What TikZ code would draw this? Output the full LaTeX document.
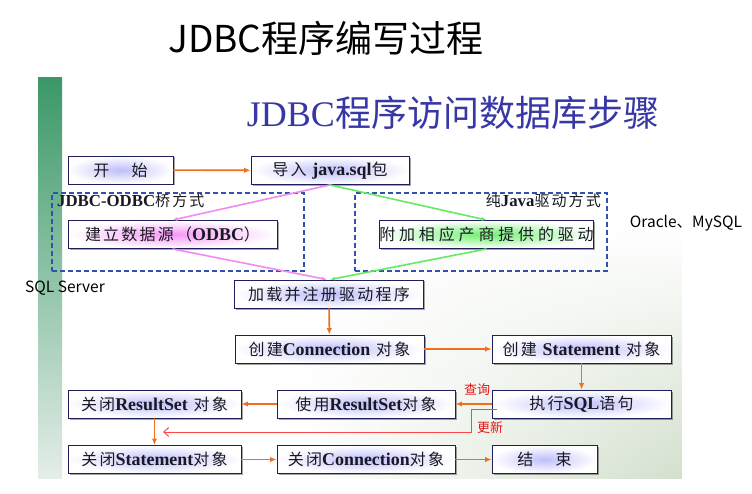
\documentclass[tikz,border=0pt]{standalone}
\usepackage{fontspec}
\setmainfont{Liberation Serif}
\newfontfamily\cjk{Noto Sans CJK SC}
\newfontfamily\cjks{Noto Sans CJK SC}[LetterSpace=14]
\newfontfamily\cjkw{Noto Sans CJK SC}[LetterSpace=24]
\newfontfamily\tnr{Liberation Serif}[Scale=1.12]
\newfontfamily\tnrr{Liberation Serif}
\newcommand\en[1]{{\tnr\bfseries #1}}
\usetikzlibrary{arrows.meta,shadows,fadings}
\definecolor{boxline}{RGB}{30,30,90}
\definecolor{textc}{RGB}{25,25,35}
\definecolor{glowb}{RGB}{190,190,250}
\definecolor{glowp}{RGB}{245,150,245}
\definecolor{glowg}{RGB}{110,240,110}
\definecolor{orangec}{RGB}{240,110,30}
\definecolor{pinkc}{RGB}{240,140,240}
\definecolor{greenc}{RGB}{100,235,100}
\definecolor{dashc}{RGB}{50,80,180}
\definecolor{redc}{RGB}{230,20,20}
\definecolor{redl}{RGB}{255,70,70}
\definecolor{slideblue}{RGB}{55,55,165}
\definecolor{barTop}{RGB}{58,152,104}
\definecolor{barMid}{RGB}{170,205,185}
\definecolor{barBot}{RGB}{228,238,232}
\definecolor{bgtint}{RGB}{212,224,206}
\tikzset{
  box/.style={draw=boxline, line width=0.9pt, inner color=#1, outer color=white,
    drop shadow={shadow xshift=1.5pt, shadow yshift=-1.5pt, opacity=0.35, fill=black},
    minimum height=28, inner sep=0pt, text=textc,
    font=\fontsize{16}{18}\selectfont\cjks},
  box/.default=glowb,
  oarrow/.style={draw=orangec, line width=1.6pt, -{Latex[length=6.5pt,width=5.5pt]}},
  parrow/.style={draw=pinkc, line width=1.6pt, -{Latex[length=5pt,width=4pt]}},
  garrow/.style={draw=greenc, line width=1.6pt, -{Latex[length=5pt,width=4pt]}},
  dashbox/.style={draw=dashc, line width=1.1pt, dash pattern=on 5pt off 3pt, inner sep=0pt},
  redline/.style={draw=redl, line width=1pt, -{Straight Barb[length=5pt,width=9pt]}},
  redlabel/.style={text=redc, font=\fontsize{13}{15}\selectfont\cjk, inner sep=0pt},
  side/.style={text=black, font=\fontsize{15.5}{17}\selectfont\cjk, inner sep=0pt},
  grouplabel/.style={text=textc, font=\fontsize{15}{17}\selectfont\cjks, inner sep=0pt}
}
\begin{document}
\begin{tikzpicture}[x=1pt,y=-1pt]
\useasboundingbox (0,0) rectangle (752,494);
\fill[white] (0,0) rectangle (752,494);
% slide background
\shade[left color=white, right color=bgtint, path fading=north] (300,230) rectangle (682,478);
\shade[top color=barTop, middle color=barMid, bottom color=barBot] (38,78) rectangle (62,478);
% titles
\node[font=\fontsize{37}{40}\selectfont\cjk, text=black, inner sep=0pt] (title) at (326,38) {JDBC程序编写过程};
\node[font=\fontsize{36}{40}\selectfont\cjk, text=slideblue, inner sep=0pt] (stitle) at (453,113) {{\tnrr JDBC}程序访问数据库步骤};
% group frames
\node[dashbox, minimum width=252, minimum height=78] (bridge) at (178,232) {};
\node[dashbox, minimum width=252, minimum height=78] (pure) at (481,232) {};
\node[grouplabel, anchor=west] (bridgelabel) at (57,201) {{\tnr\bfseries JDBC-ODBC}桥方式};
\node[grouplabel, anchor=east] (purelabel) at (601,201) {纯{\tnr\bfseries Java}驱动方式};
% boxes
\node[box, minimum width=105] (start) at (120.5,170) {开\hspace{1.4em}始};
\node[box, minimum width=158] (daoru) at (330,170.5) {导入 \en{java.sql}包};
\node[box=glowp, minimum width=209] (jianli) at (172.5,234.5) {建立数据源（\en{ODBC}）};
\node[box=glowg, minimum width=209, font=\fontsize{16}{18}\selectfont\cjkw] (fujia) at (486.5,234.5) {附加相应产商提供的驱动};
\node[box, minimum width=189] (jiazai) at (329,294) {加载并注册驱动程序};
\node[box, minimum width=189] (conn) at (329.5,349) {创建\en{Connection} 对象};
\node[box, minimum width=179] (stmt) at (581.5,349) {创建 \en{Statement} 对象};
\node[box, minimum width=179] (zhixing) at (581.5,404) {执行\en{SQL}语句};
\node[box, minimum width=178] (shiyong) at (366,404) {使用\en{ResultSet}对象};
\node[box, minimum width=173] (closers) at (154.5,404) {关闭\en{ResultSet} 对象};
\node[box, minimum width=173] (closest) at (154.5,459.5) {关闭\en{Statement}对象};
\node[box, minimum width=178] (closeconn) at (366,459.5) {关闭\en{Connection}对象};
\node[box, minimum width=105] (end) at (544.5,459.5) {结\hspace{1.4em}束};
% side notes
\node[side] (oracle) at (686,223) {Oracle、MySQL};
\node[side] (sqlserver) at (65,288) {SQL Server};
% connectors
\draw[oarrow] (start) -- (daoru);
\draw[parrow] (daoru.south) -- (jianli.north);
\draw[garrow] (daoru.south) -- (fujia.north);
\draw[parrow] (jianli.south) -- ([xshift=-2pt]jiazai.north);
\draw[garrow] (fujia.south) -- ([xshift=1pt]jiazai.north);
\draw[oarrow] (jiazai) -- (conn);
\draw[oarrow] (conn) -- (stmt);
\draw[oarrow] (stmt) -- (zhixing);
\draw[oarrow] (zhixing) -- (shiyong);
\draw[oarrow] (shiyong) -- (closers);
\draw[oarrow] (closers) -- (closest);
\draw[oarrow] (closest) -- (closeconn);
\draw[oarrow] (closeconn) -- (end);
\coordinate (upd) at (163,432);
\draw[redline] ([xshift=5pt,yshift=-5pt]zhixing.west) -- ++(-25,0) |- (upd);
\node[redlabel] (query) at (477,390) {查询};
\node[redlabel] (update) at (490,428) {更新};
\end{tikzpicture}
\end{document}
